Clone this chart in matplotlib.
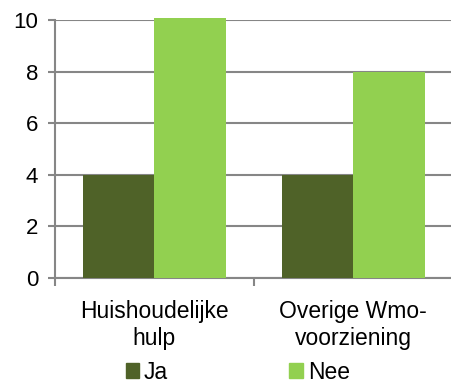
import numpy as np
import matplotlib.pyplot as plt
from matplotlib.patches import Patch

plt.rcParams['font.family'] = ['Liberation Sans', 'DejaVu Sans']

categories = ["Huishoudelijke\nhulp", "Overige Wmo-\nvoorziening"]
series_names = ["Ja", "Nee"]
ja_values = [4, 4]
nee_values = [10.1, 8]
y_ticks = [0, 2, 4, 6, 8, 10]

col_ja = "#4f6228"
col_nee = "#92d050"
grey = "#868686"

fig = plt.figure(figsize=(4.51, 3.87), dpi=100)
ax = fig.add_axes([0.122, 0.282, 0.882, 0.666])

x = np.arange(len(categories))
w = 0.36
ax.bar(x - w / 2, ja_values, w, color=col_ja, zorder=3, clip_on=False)
ax.bar(x + w / 2, nee_values, w, color=col_nee, zorder=3, clip_on=False)

ax.set_xlim(-0.5, 1.5)
ax.set_ylim(0, 10)
ax.set_yticks(y_ticks)
ax.yaxis.grid(True, color=grey, linewidth=1.5, zorder=0)

# category boundary ticks on the x-axis
ax.set_xticks([-0.5, 0.5, 1.5])
ax.set_xticklabels([])
ax.set_xticks(x, minor=True)
ax.set_xticklabels(categories, minor=True, fontsize=16.5, linespacing=1.2)
ax.tick_params(axis='x', which='minor', length=0, pad=16)
ax.tick_params(axis='x', which='major', length=6, width=1.5, color=grey)
ax.tick_params(axis='y', length=5, width=1.5, color=grey, labelsize=16, pad=7)

for side in ['top', 'right']:
    ax.spines[side].set_visible(False)
for side in ['left', 'bottom']:
    ax.spines[side].set_color(grey)
    ax.spines[side].set_linewidth(1.5)

handles = [Patch(color=col_ja), Patch(color=col_nee)]
fig.legend(handles, series_names, loc='center', bbox_to_anchor=(0.527, 0.038),
           ncol=2, frameon=False, fontsize=16.5, handlelength=0.6,
           handleheight=0.6, handletextpad=0.2, columnspacing=5.3)

fig.savefig("out.png", dpi=100)
